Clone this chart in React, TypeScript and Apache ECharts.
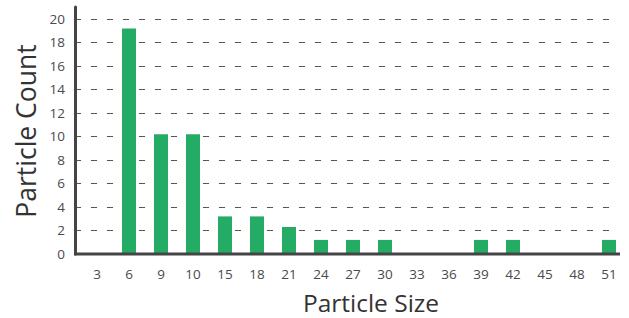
import React, { useEffect, useRef } from "react";
import * as echarts from "echarts";

const categories = ["3", "6", "9", "10", "15", "18", "21", "24", "27", "30", "33", "36", "39", "42", "45", "48", "51"];
const counts = [0, 19.2, 10.2, 10.2, 3.2, 3.2, 2.3, 1.2, 1.2, 1.2, 0, 0, 1.2, 1.2, 0, 0, 1.2];
const yTicks = [0, 2, 4, 6, 8, 10, 12, 14, 16, 18, 20];

const FONT = "'Open Sans', 'DejaVu Sans', sans-serif";

export default function App() {
  const ref = useRef<HTMLDivElement>(null);
  useEffect(() => {
    if (!ref.current) return;
    const chart = echarts.init(ref.current, null, { renderer: "svg" });
    const yMax = yTicks[yTicks.length - 1];
    chart.setOption({
      animation: false,
      grid: [
        { left: 81, right: 4, top: 19, bottom: 64 },
        { left: 75, right: 17, top: 7, bottom: 64 },
      ],
      xAxis: [
        {
          type: "category",
          gridIndex: 0,
          data: categories,
          axisLine: { show: false },
          axisTick: { show: false },
          axisLabel: { color: "#4a4a4a", fontSize: 13.5, fontFamily: FONT, margin: 13 },
        },
        {
          type: "category",
          gridIndex: 1,
          data: categories,
          axisLine: { show: false },
          axisTick: { show: false },
          axisLabel: { show: false },
        },
      ],
      yAxis: [
        {
          type: "value",
          gridIndex: 0,
          min: 0,
          max: yMax,
          interval: 2,
          axisLine: { show: false },
          axisTick: { show: false },
          axisLabel: { show: false },
          splitLine: { show: false },
        },
        {
          type: "value",
          gridIndex: 1,
          min: 0,
          max: yMax + 1,
          interval: 2,
          axisLine: { show: true, lineStyle: { color: "#444", width: 3 } },
          axisTick: { show: false },
          axisLabel: {
            color: "#4a4a4a",
            fontSize: 13.5,
            fontFamily: FONT,
            margin: 10,
            showMaxLabel: false,
          },
          splitLine: {
            show: true,
            showMaxLine: false,
            showMinLine: false,
            lineStyle: { color: "#555", width: 1, type: [6, 10] },
          },
        },
      ],
      graphic: [
        {
          type: "line",
          shape: { x1: 74, y1: 254, x2: 620, y2: 254 },
          style: { stroke: "#444", lineWidth: 3 },
          z: 10,
        },
        {
          type: "text",
          x: 371,
          y: 302,
          style: {
            text: "Particle Size",
            font: `24.5px ${FONT}`,
            fill: "#333",
            align: "center",
            verticalAlign: "middle",
          },
        },
        {
          type: "text",
          x: 26,
          y: 131,
          rotation: Math.PI / 2,
          style: {
            text: "Particle Count",
            font: `26.5px ${FONT}`,
            fill: "#333",
            align: "center",
            verticalAlign: "middle",
          },
        },
      ],
      series: [
        {
          type: "bar",
          xAxisIndex: 0,
          yAxisIndex: 0,
          data: counts,
          barWidth: 14,
          itemStyle: { color: "#24ac67" },
          z: 5,
        },
      ],
    });
    return () => chart.dispose();
  }, []);
  return <div ref={ref} style={{ width: 629, height: 318, position: "absolute", left: 0, top: 0, background: "#fff" }} />;
}
